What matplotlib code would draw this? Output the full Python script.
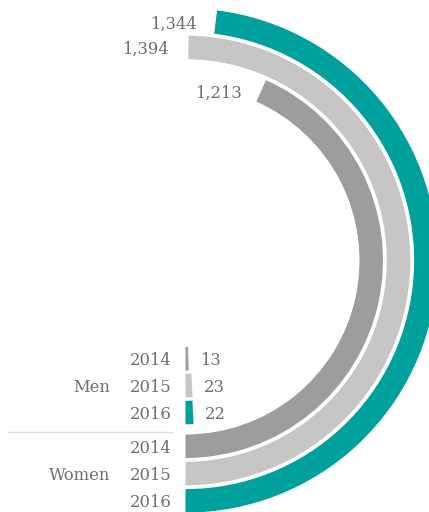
import numpy as np
import matplotlib
matplotlib.use("Agg")
import matplotlib.pyplot as plt
from matplotlib.lines import Line2D

# ---- data ----
groups = ["Men", "Men", "Men", "Women", "Women", "Women"]
years = ["2014", "2015", "2016", "2014", "2015", "2016"]
values = [13, 23, 22, 1213, 1394, 1344]
value_labels = ["13", "23", "22", "1,213", "1,394", "1,344"]
scale_max = 1400  # value that fills the half circle

# ---- style ----
colors = ["#9d9d9c", "#c6c6c6", "#00a19d"] * 2
text_color = "#6e6e6e"
font = "DejaVu Serif"
fs = 11.8

W, H, DPI = 429, 512, 100
fig = plt.figure(figsize=(W / DPI, H / DPI), dpi=DPI)

cx, cy = 185.5, 512 - 260.5   # centre in pixels (from bottom)
S = 262.0
ax = fig.add_axes([(cx - S) / W, (cy - S) / H, 2 * S / W, 2 * S / H], projection="polar")
ax.set_theta_zero_location("S")
ax.set_theta_direction(1)
ax.set_ylim(0, S)
ax.set_axis_off()

thick = 23.5
inner = [86.5, 113.3, 140.3, 174.0, 201.3, 228.6]

for i, v in enumerate(values):
    theta = v / scale_max * np.pi
    ax.bar(0, thick, width=theta, bottom=inner[i], align="edge",
           color=colors[i], edgecolor="none", linewidth=0)
    rmid = inner[i] + thick / 2
    # year label
    ax.annotate(years[i], xy=(0, rmid), xytext=(-14, 0), textcoords="offset pixels",
                ha="right", va="center_baseline", color=text_color,
                family=font, fontsize=fs, annotation_clip=False)
    # value label
    if groups[i] == "Men":
        ax.annotate(value_labels[i], xy=(theta, rmid), xytext=(12, 0),
                    textcoords="offset pixels", ha="left", va="center_baseline",
                    color=text_color, family=font, fontsize=fs, annotation_clip=False)
    else:
        ax.annotate(value_labels[i], xy=(theta, rmid), xytext=(-19, 0),
                    textcoords="offset pixels", ha="right", va="center_baseline",
                    color=text_color, family=font, fontsize=fs, annotation_clip=False)

# group labels
for g, idx in (("Men", 1), ("Women", 4)):
    rmid = inner[idx] + thick / 2
    ax.annotate(g, xy=(0, rmid), xytext=(-75.5, 0), textcoords="offset pixels",
                ha="right", va="center_baseline", color=text_color,
                family=font, fontsize=fs, annotation_clip=False)

# separator line
ysep = (512 - 432.3) / H
fig.add_artist(Line2D([8 / W, 171.7 / W], [ysep, ysep], transform=fig.transFigure,
                      color="#dcdcdc", linewidth=1.0))

fig.savefig("out.png", dpi=DPI)
